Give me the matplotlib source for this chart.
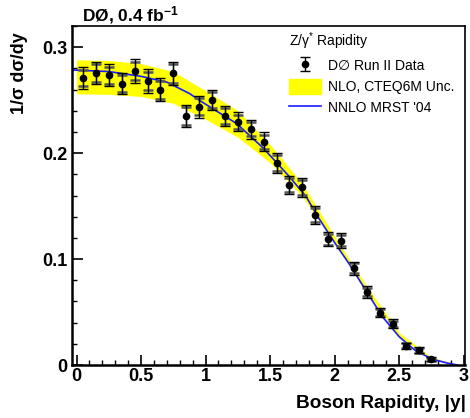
import matplotlib.pyplot as plt
from matplotlib.ticker import MultipleLocator
from matplotlib.patches import Patch
from matplotlib.lines import Line2D

plt.rcParams['font.family'] = ['Liberation Sans', 'DejaVu Sans']
plt.rcParams['mathtext.fontset'] = 'custom'
plt.rcParams['mathtext.rm'] = 'Liberation Sans'
plt.rcParams['mathtext.it'] = 'Liberation Sans:italic'
plt.rcParams['mathtext.bf'] = 'Liberation Sans:bold'

# D0 Run II data, 0.1-wide bins in |y|
rapidity = [0.05, 0.15, 0.25, 0.35, 0.45, 0.55, 0.65, 0.75, 0.85, 0.95,
            1.05, 1.15, 1.25, 1.35, 1.45, 1.55, 1.65, 1.75, 1.85, 1.95,
            2.05, 2.15, 2.25, 2.35, 2.45, 2.55, 2.65, 2.75]
dsigma = [0.2710, 0.2755, 0.2736, 0.2657, 0.2774, 0.2682, 0.2600, 0.2752, 0.2349, 0.2437,
          0.2500, 0.2352, 0.2295, 0.2226, 0.2107, 0.1908, 0.1698, 0.1676, 0.1417, 0.1189,
          0.1173, 0.0912, 0.0689, 0.0494, 0.0390, 0.0182, 0.0139, 0.0054]
err_total = [0.0102, 0.0107, 0.0105, 0.0102, 0.0113, 0.0110, 0.0110, 0.0112, 0.0107, 0.0104,
             0.0097, 0.0097, 0.0090, 0.0088, 0.0088, 0.0097, 0.0088, 0.0092, 0.0085, 0.0070,
             0.0072, 0.0063, 0.0053, 0.0042, 0.0040, 0.0030, 0.0030, 0.0020]
err_stat = [0.0077, 0.0082, 0.0080, 0.0077, 0.0088, 0.0085, 0.0085, 0.0087, 0.0082, 0.0079,
            0.0074, 0.0074, 0.0068, 0.0066, 0.0066, 0.0074, 0.0066, 0.0070, 0.0064, 0.0052,
            0.0054, 0.0047, 0.0040, 0.0031, 0.0030, 0.0022, 0.0022, 0.0015]

# NLO CTEQ6M uncertainty band
band_y = [0.0, 0.25, 0.5, 0.75, 1.0, 1.25, 1.5, 1.75, 2.0, 2.25, 2.5, 2.75, 2.95]
band_lo = [0.256, 0.2555, 0.2535, 0.2470, 0.2320, 0.2150, 0.1910, 0.1590, 0.1155, 0.0690, 0.0270, 0.0060, 0.0]
band_hi = [0.288, 0.2875, 0.2845, 0.2770, 0.2590, 0.2400, 0.2080, 0.1710, 0.1215, 0.0740, 0.0305, 0.0075, 0.0005]

# NNLO MRST '04
nnlo_y = [-0.03, 0.25, 0.5, 0.7, 0.875, 0.95, 1.16, 1.24, 1.45, 1.65, 1.78, 1.87,
          2.0, 2.11, 2.24, 2.37, 2.5, 2.63, 2.76, 2.88, 2.95]
nnlo_val = [0.2785, 0.2770, 0.2725, 0.2670, 0.2563, 0.2500, 0.2340, 0.2280, 0.2044, 0.1777, 0.1588, 0.1399,
            0.1155, 0.0959, 0.0708, 0.0456, 0.0267, 0.0132, 0.0054, 0.0016, 0.0]

fig = plt.figure(figsize=(4.7, 4.18), dpi=100)
ax = fig.add_axes([72 / 470, 1 - 365 / 418, 393 / 470, 339 / 418])

band = ax.fill_between(band_y, band_lo, band_hi, color='#ffff00', lw=0, zorder=1)
line, = ax.plot(nnlo_y, nnlo_val, color='#1a1aff', lw=1.2, zorder=2)
ax.errorbar(rapidity, dsigma, yerr=err_stat, fmt='none', ecolor='#555555',
            elinewidth=1, capsize=3.5, capthick=1.8, zorder=3)
data = ax.errorbar(rapidity, dsigma, yerr=err_total, fmt='o', color='k', ms=4.5,
                   elinewidth=1, capsize=3.5, capthick=1, zorder=4)

ax.set_xlim(-0.035, 3.01)
ax.set_ylim(0, 0.32)
ax.xaxis.set_minor_locator(MultipleLocator(0.1))
ax.yaxis.set_minor_locator(MultipleLocator(0.02))
ax.set_xticks([0, 0.5, 1, 1.5, 2, 2.5, 3])
ax.set_xticklabels(['0', '0.5', '1', '1.5', '2', '2.5', '3'])
ax.set_yticks([0, 0.1, 0.2, 0.3])
ax.set_yticklabels(['0', '0.1', '0.2', '0.3'])
ax.tick_params(axis='both', which='both', direction='in', top=False, right=False)
ax.tick_params(axis='y', which='major', length=8, width=1.2, labelsize=13, pad=3)
ax.tick_params(axis='y', which='minor', length=3.5, width=1)
ax.tick_params(axis='x', which='major', length=7, width=1.2, labelsize=13, pad=2)
ax.tick_params(axis='x', which='minor', length=3.5, width=1)
for lab in ax.get_xticklabels() + ax.get_yticklabels():
    lab.set_fontweight('bold')
for side in ['left', 'bottom']:
    ax.spines[side].set_linewidth(1.8)
for side in ['top', 'right']:
    ax.spines[side].set_linewidth(1.2)

fig.text(82 / 470, 1 - 15 / 418, r'DØ, 0.4 fb$^{\mathbf{-1}}$', fontsize=12.5,
         fontweight='bold', va='center', ha='left')
fig.text(20 / 470, 1 - 32 / 418, '1/σ dσ/dy', fontsize=13, fontweight='bold',
         rotation=90, ha='center', va='top')
fig.text(466 / 470, 1 - 403 / 418, 'Boson Rapidity, |y|', fontsize=13.7,
         fontweight='bold', ha='right', va='center')

leg = ax.legend([data, Patch(color='#ffff00'), Line2D([], [], color='#1a1aff', lw=1.2)],
                ['D∅ Run II Data', 'NLO, CTEQ6M Unc.', "NNLO MRST '04"],
                title='Z/γ$^{*}$ Rapidity', alignment='left',
                loc='upper left', bbox_to_anchor=(279 / 470, 1 - 21 / 418),
                bbox_transform=fig.transFigure, frameon=False, fontsize=10,
                title_fontsize=10, handlelength=2.3, handleheight=1.3,
                handletextpad=0.5, labelspacing=0.42, borderpad=0.2)

fig.savefig('out.png', dpi=100)
